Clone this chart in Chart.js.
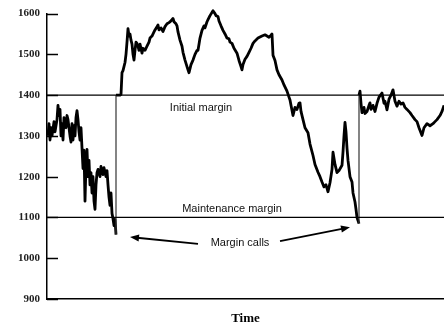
<!DOCTYPE html>
<html>
<head>
<meta charset="utf-8">
<script src="https://cdn.jsdelivr.net/npm/chart.js@4/dist/chart.umd.min.js"></script>
<style>
html,body{margin:0;padding:0;background:#fff;}
#c{display:block;}
</style>
</head>
<body>
<canvas id="c" width="444" height="328"></canvas>
<script>
// ---- data (time index, account value) ----
const yTicks = [900, 1000, 1100, 1200, 1300, 1400, 1500, 1600];
const initialMargin = 1400;
const maintenanceMargin = 1100;
const timeRange = [0, 397];

const seg1T = [1,2,3,4,5,7,8,10,11,12,13,14,15,16,17,19,20,21,23,24,25,26,27,28,29,30,31,32,33,34,35,36,37,38,39,40,41,42,43,44,45,46,47,48,49,50,51,53,54,56,57,59,60,61,62,63,64,65,66,67,68,69];
const seg1V = [1300,1330,1290,1320,1300,1335,1310,1340,1375,1350,1365,1300,1330,1290,1345,1320,1350,1340,1300,1285,1330,1290,1325,1300,1345,1362,1340,1310,1290,1320,1270,1220,1265,1140,1230,1267,1200,1240,1180,1210,1160,1200,1140,1120,1180,1210,1218,1200,1225,1205,1222,1200,1215,1180,1150,1130,1160,1110,1097,1080,1095,1058];

const seg2T = [69,73,74,75,76,78,79,80,81,82,83,84,85,86,87,88,89,90,91,92,93,95,96,98,100,102,103,105,107,108,110,111,112,114,116,118,120,122,124,126,127,129,130,131,133,135,136,138,140,141,142,143,144,146,148,150,151,152,153,155,157,158,160,161,163,166,168,169,171,172,174,176,178,180,182,183,185,187,190,192,194,195,196,198,200,202,204,206,208,211,215,218,222,224,225,226,228,230,232,235,237,240,242,243,244,246,248,250,252,253,254,256,258,261,263,266,268,271,273,275,277,279,281,283,285,286,288,290,292,295,296,297,298,299,300,301,303,305,306,308,309,310,312];
const seg2V = [1400,1400,1402,1455,1460,1480,1500,1530,1563,1545,1550,1535,1525,1500,1486,1510,1530,1527,1520,1510,1525,1503,1515,1510,1520,1530,1540,1545,1555,1560,1568,1572,1560,1565,1556,1568,1575,1578,1582,1588,1580,1575,1570,1555,1535,1520,1505,1486,1470,1462,1455,1465,1475,1486,1500,1510,1510,1525,1540,1559,1570,1565,1580,1585,1595,1607,1600,1595,1593,1582,1570,1559,1550,1540,1538,1530,1527,1515,1503,1485,1470,1462,1475,1488,1495,1505,1515,1527,1533,1540,1545,1548,1542,1547,1550,1498,1485,1462,1450,1437,1425,1410,1395,1388,1375,1350,1370,1365,1380,1381,1360,1340,1320,1308,1280,1252,1230,1211,1200,1187,1175,1180,1163,1185,1218,1260,1230,1210,1215,1228,1260,1300,1333,1310,1270,1240,1200,1187,1160,1138,1120,1100,1085];

const seg3T = [312,313,314,315,317,318,320,322,323,324,326,328,330,332,335,337,338,340,342,344,346,348,350,352,354,356,358,360,363,365,368,370,372,375,377,380,383,386,388,390,393,395,397];
const seg3V = [1400,1410,1380,1357,1370,1355,1360,1375,1381,1365,1375,1360,1380,1395,1405,1380,1385,1364,1390,1400,1413,1385,1373,1385,1378,1381,1370,1365,1357,1350,1340,1335,1320,1301,1320,1330,1325,1330,1335,1340,1350,1360,1375];

const xTitle = 'Time';
const annotationTexts = ['Initial margin', 'Maintenance margin', 'Margin calls'];

// ---- build datasets ----
const pts = (T, V) => T.map((t, i) => ({x: t, y: V[i]}));
const last = (T, V) => ({x: T[T.length - 1], y: V[V.length - 1]});
const first = (T, V) => ({x: T[0], y: V[0]});

const seriesStyle = {borderColor: '#000', borderWidth: 2.8, pointRadius: 0, tension: 0, fill: false, clip: false, borderJoinStyle: 'round'};
const thin = {borderColor: '#333', borderWidth: 1.2, pointRadius: 0, tension: 0, fill: false};
const refLine = {borderColor: '#000', borderWidth: 1.3, pointRadius: 0, tension: 0, fill: false};

const datasets = [
  Object.assign({data: [{x: timeRange[0], y: initialMargin}, {x: timeRange[1], y: initialMargin}]}, refLine),
  Object.assign({data: [{x: timeRange[0], y: maintenanceMargin}, {x: timeRange[1], y: maintenanceMargin}]}, refLine),
  Object.assign({data: [last(seg1T, seg1V), first(seg2T, seg2V)]}, thin),
  Object.assign({data: [last(seg2T, seg2V), first(seg3T, seg3V)]}, thin),
  Object.assign({data: pts(seg1T, seg1V)}, seriesStyle),
  Object.assign({data: pts(seg2T, seg2V)}, seriesStyle),
  Object.assign({data: pts(seg3T, seg3V)}, seriesStyle)
];

// ---- plugin: inward ticks, annotations, arrows ----
const annotate = {
  id: 'annotate',
  afterDatasetsDraw(chart) {
    const {ctx, chartArea, scales: {x, y}} = chart;
    ctx.save();
    // inward tick marks
    ctx.strokeStyle = '#000';
    ctx.lineWidth = 1.5;
    yTicks.forEach(v => {
      const py = Math.round(y.getPixelForValue(v)) + 0.5;
      ctx.beginPath();
      ctx.moveTo(chartArea.left, py);
      ctx.lineTo(chartArea.left + 11, py);
      ctx.stroke();
    });
    // texts
    ctx.fillStyle = '#111';
    ctx.font = '11px "Liberation Sans", Arial, sans-serif';
    ctx.textAlign = 'center';
    ctx.textBaseline = 'middle';
    ctx.fillText(annotationTexts[0], x.getPixelForValue(154), y.getPixelForValue(1369));
    ctx.fillText(annotationTexts[1], x.getPixelForValue(185), y.getPixelForValue(1122));
    ctx.fillText(annotationTexts[2], x.getPixelForValue(193), y.getPixelForValue(1038));
    // arrows
    const arrow = (t0, v0, t1, v1) => {
      const x0 = x.getPixelForValue(t0), y0 = y.getPixelForValue(v0);
      const x1 = x.getPixelForValue(t1), y1 = y.getPixelForValue(v1);
      const a = Math.atan2(y1 - y0, x1 - x0);
      const L = 9, W = 3.5;
      ctx.strokeStyle = '#000';
      ctx.lineWidth = 1.8;
      ctx.beginPath();
      ctx.moveTo(x0, y0);
      ctx.lineTo(x1 - Math.cos(a) * (L - 2), y1 - Math.sin(a) * (L - 2));
      ctx.stroke();
      ctx.fillStyle = '#000';
      ctx.beginPath();
      ctx.moveTo(x1, y1);
      ctx.lineTo(x1 - Math.cos(a) * L - Math.sin(a) * W, y1 - Math.sin(a) * L + Math.cos(a) * W);
      ctx.lineTo(x1 - Math.cos(a) * L + Math.sin(a) * W, y1 - Math.sin(a) * L - Math.cos(a) * W);
      ctx.closePath();
      ctx.fill();
    };
    arrow(151, 1035, 83, 1052);
    arrow(233, 1042, 303, 1076);
    ctx.restore();
  }
};

new Chart(document.getElementById('c'), {
  type: 'line',
  data: {datasets},
  options: {
    responsive: false,
    animation: false,
    devicePixelRatio: 1,
    layout: {padding: {top: 9, right: 0, left: 0, bottom: 0}},
    plugins: {legend: {display: false}, tooltip: {enabled: false}},
    scales: {
      x: {
        type: 'linear',
        min: timeRange[0],
        max: timeRange[1],
        ticks: {display: false},
        grid: {display: true, drawOnChartArea: false, drawTicks: false},
        border: {display: true, color: '#000', width: 1.5},
        title: {display: true, text: xTitle, color: '#000', font: {family: '"Liberation Serif", serif', size: 13, weight: 'bold'}, padding: {top: 0, bottom: 2}},
        afterFit(s) { s.height = 29; }
      },
      y: {
        type: 'linear',
        min: yTicks[0],
        max: yTicks[yTicks.length - 1],
        afterBuildTicks(s) { s.ticks = yTicks.map(v => ({value: v})); },
        ticks: {color: '#222', padding: 7, font: {family: '"Liberation Serif", serif', size: 11, weight: 'bold'}, callback: v => String(v)},
        grid: {display: true, drawOnChartArea: false, drawTicks: false},
        border: {display: true, color: '#000', width: 1.5},
        afterFit(s) { s.width = 47; }
      }
    }
  },
  plugins: [annotate]
});
</script>
</body>
</html>
